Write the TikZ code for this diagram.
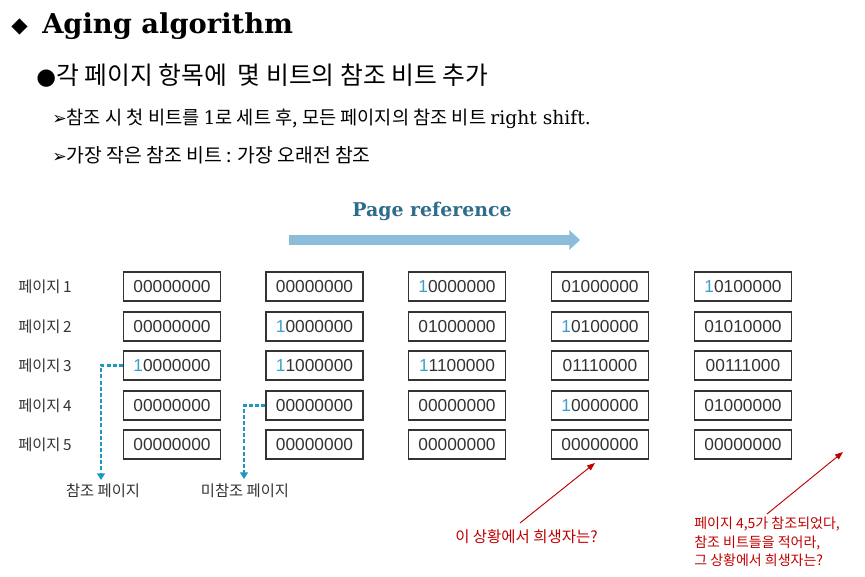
\documentclass[tikz,border=0pt]{standalone}
\usepackage{fontspec}
\setmainfont{Liberation Sans}
\newfontfamily\kr{Noto Sans CJK KR}
\newfontfamily\titlefont{DejaVu Serif}
\newfontfamily\symf{DejaVu Sans}
\usetikzlibrary{arrows.meta}
\definecolor{bitblue}{HTML}{3A9FC9}
\definecolor{dashblue}{HTML}{1E98BE}
\definecolor{arrowblue}{HTML}{8BBDDB}
\definecolor{reftext}{HTML}{2E6C8C}
\definecolor{annred}{HTML}{C00000}
\definecolor{boxgray}{HTML}{333333}
\tikzset{
  bitbox/.style={draw=boxgray, line width=1.1pt, minimum width=72.75pt, minimum height=21.75pt, inner sep=0pt, text=boxgray, font=\fontsize{13}{15}\selectfont},
  pagelabel/.style={anchor=west, inner sep=0pt, text=boxgray, font=\kr\fontsize{11.5}{13}\selectfont},
  dashconn/.style={dashblue, line width=2pt, dash pattern=on 3pt off 1.6pt, -{Triangle[length=5pt,width=6pt]}},
  redarrow/.style={annred, line width=0.7pt, -{Triangle[length=6pt,width=4.5pt]}},
  redtext/.style={anchor=north west, inner sep=0pt, text=annred, font=\kr\fontsize{10.5}{13.6}\selectfont, align=left}
}
\newcommand{\hb}{\textcolor{bitblue}{1}}
\begin{document}
\begin{tikzpicture}[x=0.75pt,y=-0.75pt]
\useasboundingbox (0,0) rectangle (865,577);
% title
\node[anchor=west, inner sep=0pt, font=\symf\fontsize{16}{18}\selectfont] (dia) at (11,27) {◆};
\node[anchor=west, inner sep=0pt, font=\titlefont\bfseries\fontsize{20.5}{23}\selectfont] (title) at (42,26) {Aging algorithm};
\node[anchor=west, inner sep=0pt, font=\kr\fontsize{18.6}{21}\selectfont] (l1) at (36,76) {{\symf\fontsize{17}{19}\selectfont ●}각 페이지 항목에 \ 몇 비트의 참조 비트 추가};
\node[anchor=west, inner sep=0pt, font=\kr\fontsize{14}{16}\selectfont] (l2) at (52,119) {{\symf\fontsize{13}{15}\selectfont ➢}참조 시 첫 비트를 {\titlefont 1}로 세트 후, 모든 페이지의 참조 비트 {\titlefont right shift.}};
\node[anchor=west, inner sep=0pt, font=\kr\fontsize{14.5}{16}\selectfont] (l3) at (52,155) {{\symf\fontsize{13}{15}\selectfont ➢}가장 작은 참조 비트 : 가장 오래전 참조};
% page reference arrow
\node[inner sep=0pt, text=reftext, font=\titlefont\bfseries\fontsize{14.2}{16}\selectfont] (pr) at (432,211) {Page reference};
\coordinate (as) at (289,240);
\coordinate (ae) at (580,240);
\draw[arrowblue, line width=8.2pt, -{Triangle[length=8pt,width=14.5pt]}] (as) -- (ae);
% page labels
\foreach \i/\y in {1/286.5,2/326.5,3/365.5,4/405.5,5/444.5}
  \node[pagelabel] (p\i) at (18,\y) {페이지\,\i};
% boxes
\node[bitbox] (b11) at (172,286.5) {00000000};
\node[bitbox] (b12) at (172,326.5) {00000000};
\node[bitbox] (b13) at (172,365.5) {\hb0000000};
\node[bitbox] (b14) at (172,405.5) {00000000};
\node[bitbox] (b15) at (172,444.5) {00000000};
\node[bitbox] (b21) at (314.5,286.5) {00000000};
\node[bitbox] (b22) at (314.5,326.5) {\hb0000000};
\node[bitbox] (b23) at (314.5,365.5) {\hb1000000};
\node[bitbox] (b24) at (314.5,405.5) {00000000};
\node[bitbox] (b25) at (314.5,444.5) {00000000};
\node[bitbox] (b31) at (457,286.5) {\hb0000000};
\node[bitbox] (b32) at (457,326.5) {01000000};
\node[bitbox] (b33) at (457,365.5) {\hb1100000};
\node[bitbox] (b34) at (457,405.5) {00000000};
\node[bitbox] (b35) at (457,444.5) {00000000};
\node[bitbox] (b41) at (600,286.5) {01000000};
\node[bitbox] (b42) at (600,326.5) {\hb0100000};
\node[bitbox] (b43) at (600,365.5) {01110000};
\node[bitbox] (b44) at (600,405.5) {\hb0000000};
\node[bitbox] (b45) at (600,444.5) {00000000};
\node[bitbox] (b51) at (743,286.5) {\hb0100000};
\node[bitbox] (b52) at (743,326.5) {01010000};
\node[bitbox] (b53) at (743,365.5) {00111000};
\node[bitbox] (b54) at (743,405.5) {01000000};
\node[bitbox] (b55) at (743,444.5) {00000000};
% dashed connectors
\node[inner sep=0pt, text=boxgray, font=\kr\fontsize{11.5}{13}\selectfont] (refl) at (103,491) {참조 페이지};
\node[inner sep=0pt, text=boxgray, font=\kr\fontsize{11.5}{13}\selectfont] (nrefl) at (245,491) {미참조 페이지};
\coordinate (d1) at (101,480);
\coordinate (d2) at (244,479);
\draw[dashconn] (b13.west) -| (d1);
\draw[dashconn] (b24.west) -| (d2);
% red annotations
\node[redtext, font=\kr\fontsize{11.6}{14}\selectfont] (q1) at (455,529) {이 상황에서 희생자는?};
\node[redtext] (q2) at (694,517) {페이지 4,5가 참조되었다,\\참조 비트들을 적어라,\\그 상황에서 희생자는?};
\coordinate (r1s) at (520,523);
\coordinate (r1) at (595,463);
\coordinate (r2a) at (767,514);
\coordinate (r2) at (843,452);
\draw[redarrow] (r1s) -- (r1);
\draw[redarrow] (r2a) -- (r2);
\end{tikzpicture}
\end{document}
